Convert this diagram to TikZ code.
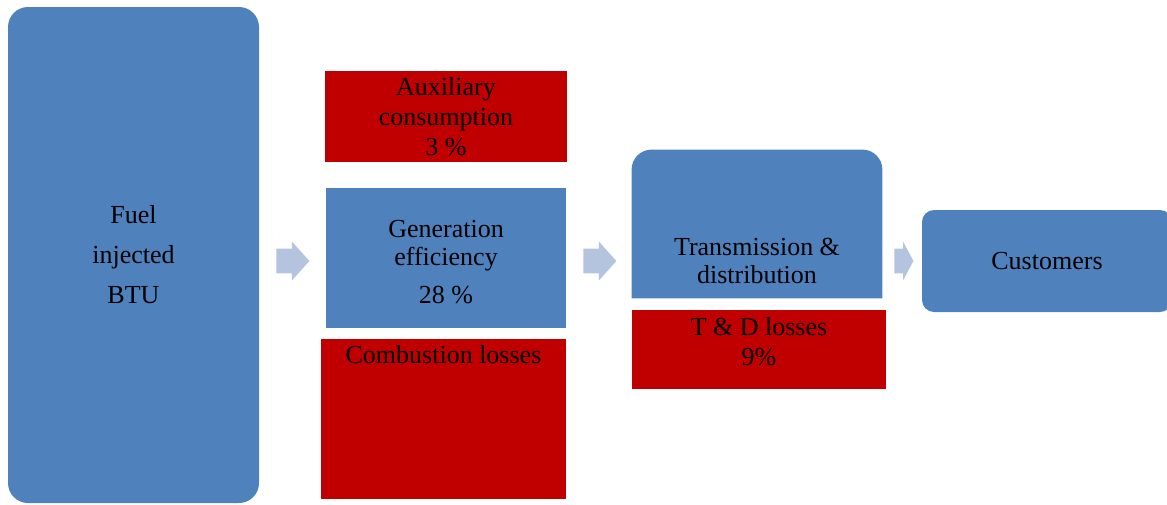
\documentclass[tikz,border=0pt]{standalone}
\usepackage{fontspec}
\setmainfont{Liberation Serif}
\usepackage{tikz}
\usetikzlibrary{shapes.arrows}
\definecolor{boxblue}{RGB}{79,129,189}
\definecolor{boxred}{RGB}{192,0,0}
\definecolor{flowblue}{RGB}{180,196,222}

\begin{document}
\begin{tikzpicture}[x=0.5pt,y=-0.5pt]
\tikzstyle{bluebox}=[fill=boxblue,inner sep=0pt,align=center,font=\fontsize{13}{14}\selectfont]
\tikzstyle{redbox}=[fill=boxred,inner sep=0pt,align=center,font=\fontsize{13}{15}\selectfont]
\tikzstyle{boxtext}=[inner sep=0pt,align=center,font=\fontsize{13}{14}\selectfont]
\tikzstyle{flow}=[single arrow,fill=flowblue,inner xsep=0pt,inner ysep=6pt,single arrow head extend=3.5pt,anchor=tail]
\useasboundingbox (0,0) rectangle (1167,504);
% boxes
\node[bluebox,rounded corners=10pt,minimum width=125.5pt,minimum height=248pt,
  font=\fontsize{13}{20}\selectfont] (fuel) at (133.5,255) {Fuel\\injected\\BTU};
\node[redbox,minimum width=121pt,minimum height=45.5pt] (aux) at (446,116.5) {Auxiliary\\consumption\\3 \%};
\node[bluebox,minimum width=120pt,minimum height=70pt] (gen) at (446,258) {};
\node[boxtext] (gentext) at (446,262) {Generation\\efficiency\\[5pt]28 \%};
\node[redbox,minimum width=122.5pt,minimum height=80pt] (comb) at (443.5,419) {};
\node[boxtext] (combtext) at (443.5,355) {Combustion losses};
\node[minimum width=125pt,minimum height=74pt,inner sep=0pt] (trans) at (757,224) {};
\fill[boxblue] (trans.south east) -- (trans.south west) [rounded corners=10pt] -- (trans.north west)
  -- (trans.north east) [sharp corners] -- (trans.south east) -- cycle;
\node[boxtext] (transtext) at (757,261) {Transmission \&\\distribution};
\node[redbox,minimum width=127pt,minimum height=39.5pt] (tdl) at (759,349.5) {};
\node[boxtext,font=\fontsize{13}{15}\selectfont] (tdltext) at (759,342) {T \& D losses\\9\%};
\node[bluebox,rounded corners=6pt,minimum width=125pt,minimum height=51pt] (cust) at (1047,261) {Customers};
% arrows
\foreach \name/\point/\len/\tip in {
	flowa/{276,261}/16.5/96,
	flowb/{583,261}/16.5/96,
	flowc/{894,261}/9.5/124}
	\node[flow,minimum height=\len pt,single arrow tip angle=\tip] (\name) at (\point) {};
\end{tikzpicture}
\end{document}
